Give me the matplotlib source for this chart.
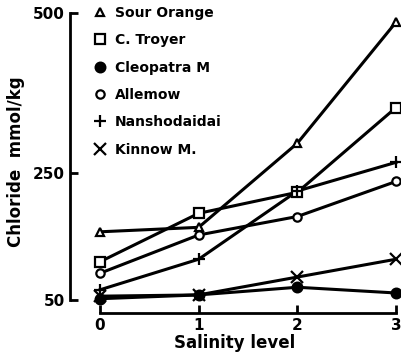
import matplotlib
matplotlib.use("Agg")
import matplotlib.pyplot as plt

salinity = [0, 1, 2, 3]
sour_orange = [157, 164, 296, 486]
c_troyer = [110, 186, 219, 352]
cleopatra = [52, 58, 70, 61]
allemow = [92, 152, 181, 236]
nanshodaidai = [66, 114, 221, 266]
kinnow = [56, 58, 86, 114]

names = ["Sour Orange", "C. Troyer", "Cleopatra M", "Allemow",
         "Nanshodaidai", "Kinnow M."]
series = [sour_orange, c_troyer, cleopatra, allemow, nanshodaidai, kinnow]
markers = ["^", "s", "o", "o", "+", "x"]
faces = ["white", "white", "black", "white", "black", "black"]
sizes = [6, 7, 7, 6, 9, 8]

plt.rcParams["font.family"] = "DejaVu Sans"
plt.rcParams["font.weight"] = "bold"

fig = plt.figure(figsize=(4.03, 3.6), dpi=100)
ax = fig.add_axes([70 / 403, 47 / 360, 330 / 403, 303 / 360])

for ys in series:
    ax.plot(salinity, ys, color="black", lw=2.2, zorder=2)
for ys, name, m, fc, s in zip(series, names, markers, faces, sizes):
    ax.plot(salinity, ys, linestyle="none", marker=m, markersize=s,
            markerfacecolor=fc, markeredgecolor="black", markeredgewidth=1.6,
            label=name, zorder=3)

ax.set_xlim(-0.304, 3.04)
ax.set_ylim(29.6, 505)
ax.spines["top"].set_visible(False)
ax.spines["right"].set_visible(False)
ax.spines["left"].set_bounds(50, 500)
ax.spines["bottom"].set_bounds(0, 3)
ax.spines["left"].set_linewidth(2)
ax.spines["bottom"].set_linewidth(2)
ax.set_xticks(salinity)
ax.set_yticks([50, 250, 500])
ax.tick_params(direction="in", length=6, width=2, labelsize=11)

ax.set_xlabel("Salinity level", fontsize=12, fontweight="bold", labelpad=1)
ax.set_ylabel("Chloride  mmol/kg", fontsize=12, fontweight="bold", labelpad=6)

ax.legend(loc="upper left", bbox_to_anchor=(0.035, 1.055), frameon=False,
          handlelength=0.8, handletextpad=0.7, labelspacing=0.96,
          fontsize=10)

fig.savefig("out.png", dpi=100)
